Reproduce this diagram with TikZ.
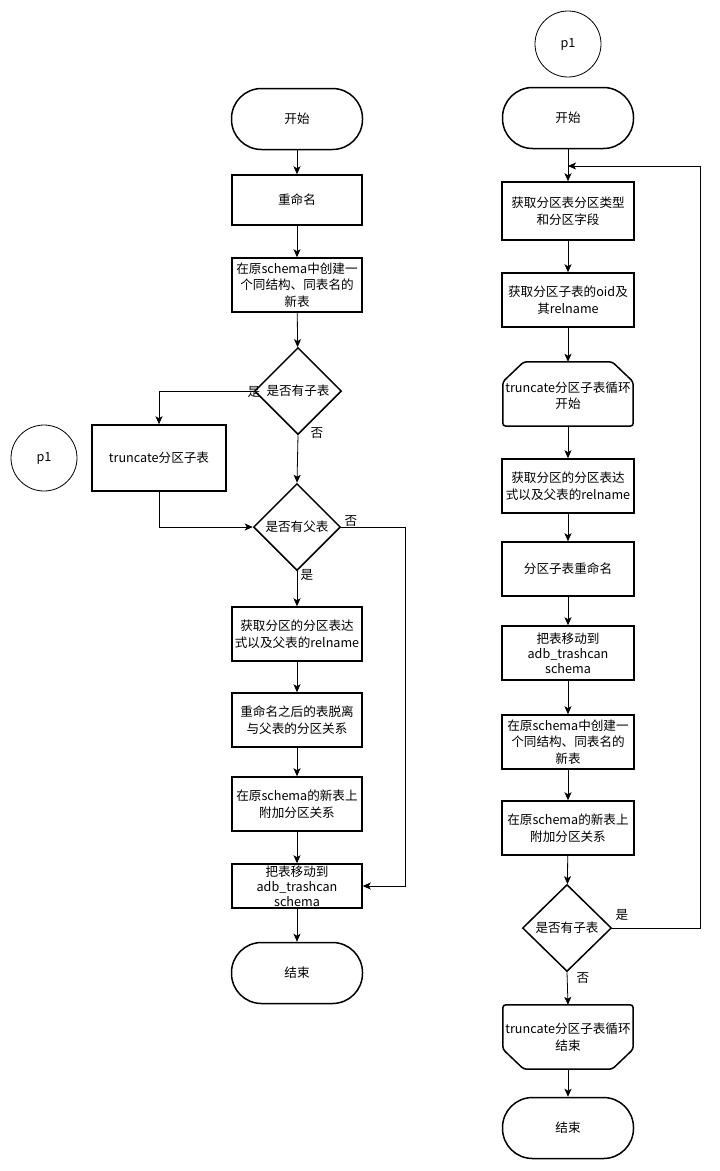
\documentclass[tikz,border=0pt]{standalone}
\usepackage{fontspec}
\setmainfont{Noto Sans CJK SC}
\usepackage{tikz}
\usetikzlibrary{arrows.meta, shapes.geometric, positioning}

\tikzset{
  box/.style={draw, line width=1.5pt, align=center, inner sep=2pt},
  term/.style={box, rectangle, rounded corners=30pt, minimum width=131pt, minimum height=61pt},
  proc/.style={box, rectangle, minimum width=130pt, minimum height=54pt},
  decide/.style={box, diamond, minimum width=87pt, minimum height=87pt, inner sep=0pt},
  loopbox/.style={rectangle, align=center, minimum width=130pt, minimum height=64pt, inner sep=0pt},
  outline/.style={line width=1.5pt, rounded corners=3pt, line join=round},
  conn/.style={draw, circle, line width=0.8pt, minimum size=66pt},
  link/.style={->, line width=0.8pt},
  lbl/.style={inner sep=0pt}
}

\begin{document}
\begin{tikzpicture}[x=1pt, y=-1pt, >={Stealth[length=8pt,width=7pt,inset=2pt]},
    font=\fontsize{12.6}{16.5}\selectfont]
  \useasboundingbox (0,0) rectangle (720,1171);

  \node[conn] (p1a) at (44,458) {p1};
  \node[term] (start1) at (297,119) {开始};
  \node[proc, minimum height=50pt] (rename1) at (297,200) {重命名};
  \node[proc] (create1) at (297,285) {在原schema中创建一\\个同结构、同表名的\\新表};
  \node[decide] (hassub1) at (298,391) {是否有子表};
  \node[proc, minimum width=134pt, minimum height=66pt] (trunc) at (159,458) {truncate分区子表};
  \node[decide] (hasparent) at (297,527) {是否有父表};
  \node[proc] (getexpr1) at (297,634) {获取分区的分区表达\\式以及父表的relname};
  \node[proc] (detach) at (297,720) {重命名之后的表脱离\\与父表的分区关系};
  \node[proc] (attach1) at (297,804) {在原schema的新表上\\附加分区关系};
  \node[proc, minimum height=44pt, inner sep=0pt, font=\fontsize{12.6}{15}\selectfont] (move1) at (297,886) {把表移动到\\adb\_trashcan\\schema};
  \node[term] (end1) at (297,973) {结束};

  \draw[link] (start1) -- (rename1);
  \draw[link] (rename1) -- (create1);
  \draw[link] (create1) -- (hassub1);
  \draw[link] (hassub1.west) -| (trunc.north);
  \node[lbl] (yes1) at (254,392) {是};
  \draw[link] (hassub1.south) -- (hasparent.north);
  \node[lbl] (no1) at (317,433) {否};
  \draw[link] (trunc.south) |- (hasparent.west);
  \draw[link] (hasparent.east) -- ++(64,0) |- (move1.east);
  \node[lbl] (no2) at (351,521) {否};
  \draw[link] (hasparent.south) -- (getexpr1.north);
  \node[lbl] (yes2) at (307,575) {是};
  \draw[link] (getexpr1) -- (detach);
  \draw[link] (detach) -- (attach1);
  \draw[link] (attach1) -- (move1);
  \draw[link] (move1) -- (end1);

  \node[conn] (p1b) at (568,44) {p1};
  \node[term] (start2) at (568,118) {开始};
  \node[proc, minimum width=132pt, minimum height=58pt] (gettype) at (568,211) {获取分区表分区类型\\和分区字段};
  \node[proc, minimum width=132pt] (getoid) at (568,300) {获取分区子表的oid及\\其relname};
  \node[loopbox] (loopstart) at (568,394) {\\[-2pt]truncate分区子表循环\\开始};
  \node[proc, minimum width=132pt] (getexpr2) at (568,486) {获取分区的分区表达\\式以及父表的relname};
  \node[proc, minimum width=132pt] (renamesub) at (568,569) {分区子表重命名};
  \node[proc, minimum width=132pt, font=\fontsize{12.6}{15}\selectfont] (move2) at (568,653) {把表移动到\\adb\_trashcan\\schema};
  \node[proc, minimum width=132pt] (create2) at (568,742) {在原schema中创建一\\个同结构、同表名的\\新表};
  \node[proc, minimum width=132pt] (attach2) at (568,828) {在原schema的新表上\\附加分区关系};
  \node[decide, minimum width=89pt] (hassub2) at (567,928) {是否有子表};
  \node[loopbox] (loopstop) at (568,1037) {truncate分区子表循环\\结束};
  \node[term] (end2) at (568,1128) {结束};
  \coordinate (back) at (568,166);

  \draw[outline] ([xshift=21pt]loopstart.north west) -- ([xshift=-21pt]loopstart.north east)
    -- ([yshift=-20pt]loopstart.north east) -- (loopstart.south east)
    -- (loopstart.south west) -- ([yshift=-20pt]loopstart.north west) -- cycle;
  \draw[outline] (loopstop.north west) -- (loopstop.north east)
    -- ([yshift=20pt]loopstop.south east) -- ([xshift=-21pt]loopstop.south east)
    -- ([xshift=21pt]loopstop.south west) -- ([yshift=20pt]loopstop.south west) -- cycle;

  \draw[link] (start2) -- (gettype);
  \draw[link] (gettype) -- (getoid);
  \draw[link] (getoid) -- (loopstart);
  \draw[link] (loopstart) -- (getexpr2);
  \draw[link] (getexpr2) -- (renamesub);
  \draw[link] (renamesub) -- (move2);
  \draw[link] (move2) -- (create2);
  \draw[link] (create2) -- (attach2);
  \draw[link] (attach2) -- (hassub2);
  \draw[link] (hassub2.east) -- ++(88,0) |- (back);
  \node[lbl] (yes3) at (622,915) {是};
  \draw[link] (hassub2.south) -- (loopstop.north);
  \node[lbl] (no3) at (583,978) {否};
  \draw[link] (loopstop) -- (end2);
\end{tikzpicture}
\end{document}
